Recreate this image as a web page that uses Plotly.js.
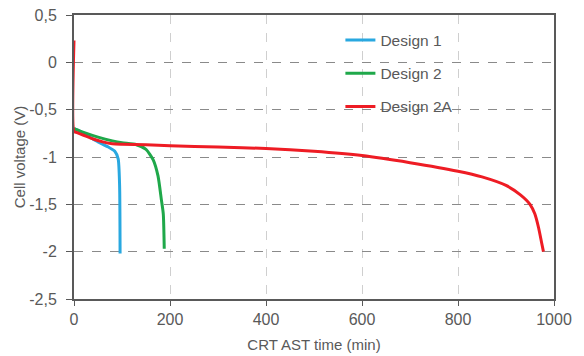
<!DOCTYPE html>
<html><head><meta charset="utf-8">
<script src="https://cdn.plot.ly/plotly-3.0.1.min.js"></script>
<style>html,body{margin:0;padding:0;background:#fff;}#chart{width:584px;height:356px;}</style>
</head><body><div id="chart"></div>
<script>
const seriesNames = ["Design 1", "Design 2", "Design 2A"];
const seriesColors = ["#29a8e0", "#1fa84a", "#ee1c24"];

const d1x = [0, 10, 30, 50, 70, 85, 92, 95, 96];
const d1y = [-0.70, -0.72, -0.78, -0.84, -0.89, -0.94, -1.02, -1.3, -2.02];

const d2x = [0, 20, 50, 80, 100, 130, 150, 165, 175, 182, 186, 188];
const d2y = [-0.70, -0.74, -0.79, -0.83, -0.85, -0.87, -0.92, -1.03, -1.2, -1.45, -1.6, -1.97];

const d2ax = [0, 0, 5, 20, 40, 60, 80, 100, 150, 200, 300, 400, 500, 600, 700, 800, 850, 900, 930, 950, 960, 968, 974, 978];
const d2ay = [0.23, -0.73, -0.74, -0.77, -0.81, -0.84, -0.86, -0.865, -0.87, -0.88, -0.895, -0.91, -0.94, -0.985, -1.06, -1.15, -1.21, -1.30, -1.40, -1.50, -1.6, -1.75, -1.9, -2.0];

const xTicks = [0, 200, 400, 600, 800, 1000];
const yTicks = [0.5, 0, -0.5, -1, -1.5, -2, -2.5];
const yTickText = ["0,5", "0", "-0,5", "-1", "-1,5", "-2", "-2,5"];

const xs = [d1x, d2x, d2ax], ys = [d1y, d2y, d2ay];
const traces = seriesNames.map((n, i) => ({
  x: xs[i], y: ys[i], name: n, type: "scatter", mode: "lines",
  legendgroup: "g" + i,
  line: {color: seriesColors[i], width: 3, shape: "spline", smoothing: 0.6}
}));

const font = {family: "Liberation Sans, Arial, sans-serif", color: "#595959", size: 16};
const layout = {
  width: 584, height: 356,
  margin: {l: 74, r: 30, t: 15, b: 57},
  paper_bgcolor: "#fff", plot_bgcolor: "#fff",
  font: font,
  showlegend: true,
  legend: {x: 0.555, y: 0.97, xanchor: "left", yanchor: "top", bgcolor: "rgba(0,0,0,0)",
           font: {family: font.family, size: 15.5, color: "#595959"}, tracegroupgap: 10, itemwidth: 30},
  xaxis: {
    range: [0, 1000], tickvals: xTicks, ticks: "outside", ticklen: 5, tickcolor: "#595959",
    showline: true, mirror: true, linewidth: 2, linecolor: "#595959",
    showgrid: true, gridcolor: "#cfcfcf", griddash: "dash", gridwidth: 1,
    zeroline: false, title: {text: "CRT AST time (min)", font: {size: 15, color: "#595959"}, standoff: 12}
  },
  yaxis: {
    range: [-2.5, 0.5], tickvals: yTicks, ticktext: yTickText, ticks: "outside", ticklen: 6, tickcolor: "#595959",
    ticklabelstandoff: 6,
    showline: true, mirror: true, linewidth: 2, linecolor: "#595959",
    showgrid: true, gridcolor: "#8a8a8a", griddash: "dash", gridwidth: 1,
    zeroline: false, title: {text: "Cell voltage (V)", font: {size: 15, color: "#595959"}, standoff: 0}
  }
};
Plotly.newPlot("chart", traces, layout, {displayModeBar: false, staticPlot: true});
</script></body></html>
